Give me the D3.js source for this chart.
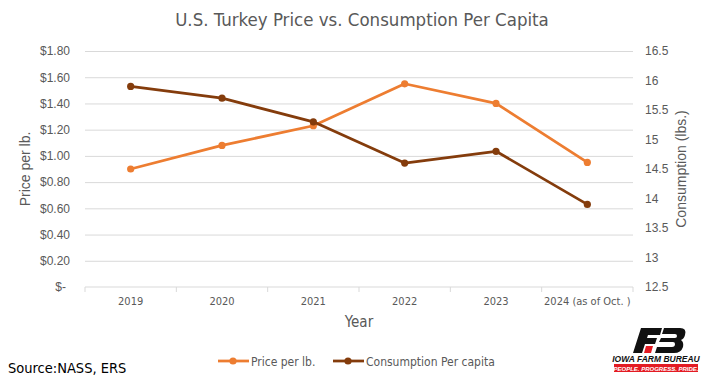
<!DOCTYPE html>
<html>
<head>
<meta charset="utf-8">
<script src="https://cdn.jsdelivr.net/npm/d3@7"></script>
<style>
  body { margin: 0; background: #fff; }
  svg { display: block; }
</style>
</head>
<body>
<div id="chart"></div>
<script>
// chart data
const years = ["2019", "2020", "2021", "2022", "2023", "2024 (as of Oct. )"];
const price = [0.90, 1.08, 1.23, 1.55, 1.40, 0.95];
const consumption = [15.9, 15.7, 15.3, 14.6, 14.8, 13.9];
const priceTicks = [0, 0.2, 0.4, 0.6, 0.8, 1.0, 1.2, 1.4, 1.6, 1.8];
const consTicks = [12.5, 13, 13.5, 14, 14.5, 15, 15.5, 16, 16.5];

const svgWidth = 706;
const svgHeight = 379;

const margin = { top: 51, right: 73, bottom: 92, left: 85 };
const chartWidth = svgWidth - margin.left - margin.right;
const chartHeight = svgHeight - margin.top - margin.bottom;

const narrow = "'Liberation Sans Narrow', 'DejaVu Sans Condensed', sans-serif";
const regular = "'Liberation Sans', Arial, sans-serif";
const grey = "#595959";
const orange = "#ED7D31";
const brown = "#843C0C";

const svg = d3.select("#chart").append("svg")
    .attr("width", svgWidth)
    .attr("height", svgHeight);

const chartG = svg.append("g")
    .attr("transform", `translate(${margin.left}, ${margin.top})`);

// scales
const x = d3.scaleBand().domain(years).range([0, chartWidth]);
const yPrice = d3.scaleLinear().domain([0, 1.8]).range([chartHeight, 0]);
const yCons = d3.scaleLinear().domain([12.5, 16.5]).range([chartHeight, 0]);

// gridlines + left axis
const leftAxis = chartG.append("g")
    .call(d3.axisLeft(yPrice)
        .tickValues(priceTicks)
        .tickSize(-chartWidth)
        .tickPadding(15)
        .tickFormat(d => d === 0 ? "$-" : d3.format("$.2f")(d)));
leftAxis.select(".domain").remove();
leftAxis.selectAll("line")
    .attr("stroke", "#d9d9d9")
    .attr("stroke-width", 1);
leftAxis.selectAll("text")
    .attr("fill", grey)
    .style("font-family", regular)
    .style("font-size", "12px")
    .attr("dx", d => d === 0 ? -4 : 0);
leftAxis.selectAll(".tick").filter(d => d === 0).select("line").remove();

// right axis (no gridlines)
const rightAxis = chartG.append("g")
    .attr("transform", `translate(${chartWidth}, 0)`)
    .call(d3.axisRight(yCons)
        .tickValues(consTicks)
        .tickSize(0)
        .tickPadding(12)
        .tickFormat(d3.format("")));
rightAxis.select(".domain").remove();
rightAxis.selectAll("text")
    .attr("fill", grey)
    .style("font-family", regular)
    .style("font-size", "12px");

// x axis line with boundary ticks
const xAxisG = chartG.append("g")
    .attr("transform", `translate(0, ${chartHeight})`);
xAxisG.append("line")
    .attr("x1", 0).attr("x2", chartWidth)
    .attr("stroke", "#d9d9d9");
xAxisG.selectAll(".bound")
    .data(years.map(d => x(d)).concat([chartWidth]))
    .enter()
    .append("line")
    .attr("x1", d => d).attr("x2", d => d)
    .attr("y1", 0).attr("y2", 5)
    .attr("stroke", "#d9d9d9");
xAxisG.selectAll(".xlab")
    .data(years)
    .enter()
    .append("text")
    .attr("x", d => x(d) + x.bandwidth() / 2)
    .attr("y", 18)
    .attr("text-anchor", "middle")
    .attr("fill", grey)
    .style("font-family", narrow)
    .style("font-size", "11px")
    .text(d => d);

// lines
const series = [
    { name: "Price per lb.", values: price, scale: yPrice, color: orange },
    { name: "Consumption Per capita", values: consumption, scale: yCons, color: brown }
];

series.forEach(s => {
    const line = d3.line()
        .x((d, i) => x(years[i]) + x.bandwidth() / 2)
        .y(d => s.scale(d));
    chartG.append("path")
        .datum(s.values)
        .attr("fill", "none")
        .attr("stroke", s.color)
        .attr("stroke-width", 2.75)
        .attr("stroke-linejoin", "round")
        .attr("d", line);
    chartG.selectAll(null)
        .data(s.values)
        .enter()
        .append("circle")
        .attr("cx", (d, i) => x(years[i]) + x.bandwidth() / 2)
        .attr("cy", d => s.scale(d))
        .attr("r", 3.6)
        .attr("fill", s.color);
});

// title
svg.append("text")
    .attr("x", 362)
    .attr("y", 26)
    .attr("text-anchor", "middle")
    .attr("fill", grey)
    .style("font-family", narrow)
    .style("font-size", "18.5px")
    .text("U.S. Turkey Price vs. Consumption Per Capita");

// axis titles
svg.append("text")
    .attr("transform", `translate(30, ${margin.top + chartHeight / 2}) rotate(-90)`)
    .attr("text-anchor", "middle")
    .attr("fill", grey)
    .style("font-family", regular)
    .style("font-size", "14px")
    .text("Price per lb.");

svg.append("text")
    .attr("transform", `translate(686, ${margin.top + chartHeight / 2}) rotate(-90)`)
    .attr("text-anchor", "middle")
    .attr("fill", grey)
    .style("font-family", regular)
    .style("font-size", "14px")
    .text("Consumption (lbs.)");

svg.append("text")
    .attr("x", 359)
    .attr("y", 327)
    .attr("text-anchor", "middle")
    .attr("fill", grey)
    .style("font-family", narrow)
    .style("font-size", "15px")
    .text("Year");

// legend
const legendPos = [218, 333];
series.forEach((s, i) => {
    const lg = svg.append("g")
        .attr("transform", `translate(${legendPos[i]}, 361)`);
    lg.append("line")
        .attr("x1", 0).attr("x2", 31)
        .attr("stroke", s.color)
        .attr("stroke-width", 2.75);
    lg.append("circle")
        .attr("cx", 15).attr("r", 3.6)
        .attr("fill", s.color);
    lg.append("text")
        .attr("x", 33)
        .attr("y", 4.5)
        .attr("fill", grey)
        .style("font-family", narrow)
        .style("font-size", "12px")
        .text(s.name);
});

// source
svg.append("text")
    .attr("x", 8)
    .attr("y", 373)
    .attr("fill", "#000")
    .style("font-family", narrow)
    .style("font-size", "14.5px")
    .text("Source:NASS, ERS");

// logo (rough)
const logo = svg.append("g").attr("transform", "translate(612, 326)");
// F
logo.append("path")
    .attr("d", "M29,2 L50,2 L48,9 L36,9 L35,12 L45,12 L43,18 L33,18 L30,27 L21,27 Z")
    .attr("fill", "#111");
logo.append("path")
    .attr("d", "M34,20 L41,20 L39,27 L32,27 Z")
    .attr("fill", "#e31b23");
// B
logo.append("path")
    .attr("d", "M52,2 L68,2 Q75,2 73,9 Q72,13 69,14 Q72,16 71,21 Q69,27 62,27 L43,27 L45,21 L60,21 Q63,21 63,18 Q63,16 61,16 L47,16 L49,12 L63,12 Q65,12 65,10 Q65,8 63,8 L50,8 Z")
    .attr("fill", "#111");
logo.append("text")
    .attr("x", 44)
    .attr("y", 36)
    .attr("text-anchor", "middle")
    .attr("fill", "#111")
    .style("font-family", regular)
    .style("font-size", "8.5px")
    .style("font-weight", "bold")
    .style("font-style", "italic")
    .text("IOWA FARM BUREAU");
logo.append("rect")
    .attr("x", 2).attr("y", 38)
    .attr("width", 84).attr("height", 8)
    .attr("fill", "#e31b23");
logo.append("text")
    .attr("x", 44)
    .attr("y", 44.5)
    .attr("text-anchor", "middle")
    .attr("fill", "#fff")
    .style("font-family", regular)
    .style("font-size", "6px")
    .style("font-weight", "bold")
    .style("font-style", "italic")
    .text("PEOPLE. PROGRESS. PRIDE.");
</script>
</body>
</html>
